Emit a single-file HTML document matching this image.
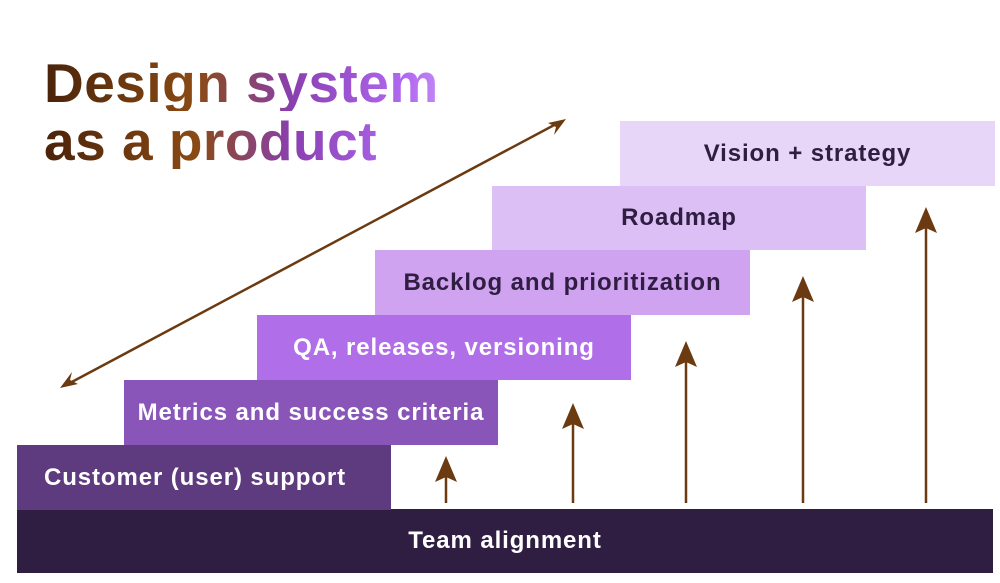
<!DOCTYPE html>
<html><head><meta charset="utf-8"><style>
body{margin:0;width:1000px;height:583px;background:#fff;position:relative;overflow:hidden;font-family:"Liberation Sans",sans-serif}
.t{position:absolute;left:44px;font-weight:bold;font-size:55px;line-height:1;letter-spacing:0.5px;background:linear-gradient(90deg,#4a230a 0%,#8a4a14 38%,#8a3fb0 62%,#b068f0 90%,#c48af5 100%);-webkit-background-clip:text;background-clip:text;color:transparent}
.b{position:absolute;height:65px;display:flex;align-items:center;justify-content:center;font-weight:bold;font-size:24px;letter-spacing:0.9px;color:#fff}
</style></head><body>
<div class="t" style="top:56px;width:400px">Design system</div>
<div class="t" style="top:114px;width:400px;background-size:400px 100%">as a product</div>
<div class="b" style="left:17px;top:509px;width:976px;height:64px;background:#2f1d42">Team alignment</div>
<div class="b" style="left:17px;top:445px;width:374px;background:#5e3a7e;justify-content:flex-start;padding-left:27px;box-sizing:border-box">Customer (user) support</div>
<div class="b" style="left:124px;top:380px;width:374px;background:#8a55b8">Metrics and success criteria</div>
<div class="b" style="left:257px;top:315px;width:374px;background:#b06ee8">QA, releases, versioning</div>
<div class="b" style="left:375px;top:250px;width:375px;background:#cfa3f0;color:#2f1d42">Backlog and prioritization</div>
<div class="b" style="left:492px;top:186px;width:374px;height:64px;background:#dcbff5;color:#2f1d42">Roadmap</div>
<div class="b" style="left:620px;top:121px;width:375px;background:#e8d6f8;color:#2f1d42">Vision + strategy</div>
<svg width="1000" height="583" style="position:absolute;left:0;top:0">
<line x1="68" y1="384" x2="558" y2="123" stroke="#6b3a10" stroke-width="2.5"/>
<path d="M60,388 L72,372 L70,380 L78,384z" fill="#6b3a10"/>
<path d="M566,119 L554,135 L556,127 L548,123z" fill="#6b3a10"/>
<g stroke="#6b3a10" stroke-width="2.5">
<line x1="446" y1="470" x2="446" y2="503"/>
<line x1="573" y1="418" x2="573" y2="503"/>
<line x1="686" y1="356" x2="686" y2="503"/>
<line x1="803" y1="290" x2="803" y2="503"/>
<line x1="926" y1="222" x2="926" y2="503"/>
</g>
<g fill="#6b3a10">
<path d="M446,456 L457,482 L446,477 L435,482z"/>
<path d="M573,403 L584,429 L573,424 L562,429z"/>
<path d="M686,341 L697,367 L686,362 L675,367z"/>
<path d="M803,276 L814,302 L803,297 L792,302z"/>
<path d="M926,207 L937,233 L926,228 L915,233z"/>
</g>
</svg>
</body></html>
